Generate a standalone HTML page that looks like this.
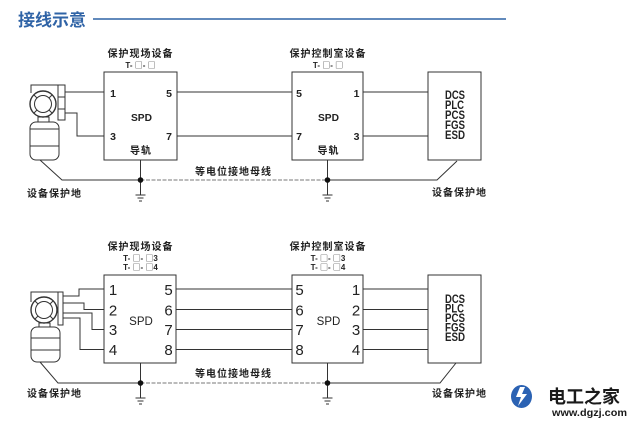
<!DOCTYPE html>
<html><head><meta charset="utf-8"><style>
html,body{margin:0;padding:0;background:#fff;}
svg{display:block;}
text{font-family:"Liberation Sans","Noto Sans CJK SC",sans-serif;}
.cj{font-family:"Liberation Sans","Noto Sans CJK SC",sans-serif;font-weight:bold;font-size:10px;letter-spacing:1px;fill:#222;}
.tl{font-weight:bold;font-size:8px;fill:#222;}
.sq{font-family:"Noto Sans CJK SC",sans-serif;font-weight:normal;font-size:8px;}
.pt{font-weight:bold;font-size:10.5px;fill:#222;}
.pb{font-size:15px;fill:#222;}
.dc{font-weight:bold;font-size:11.5px;fill:#222;}
</style></head><body>
<svg width="640" height="423" viewBox="0 0 640 423" xmlns="http://www.w3.org/2000/svg">
<rect width="640" height="423" fill="#fff"/>
<!-- title -->
<text x="18" y="26" font-size="17" font-weight="bold" fill="#2f63a6" style="font-family:'Liberation Sans','Noto Sans CJK SC',sans-serif;">接线示意</text>
<line x1="93" y1="19" x2="506" y2="19" stroke="#2f63a6" stroke-width="1.6"/>

<g stroke="#333" stroke-width="1" fill="none">
<!-- ===== TOP DIAGRAM ===== -->
<polyline points="31,93 31,85 61,85"/>
<circle cx="43" cy="104" r="13" stroke-width="1.4"/>
<circle cx="43" cy="104" r="8.5"/>
<line x1="37" y1="98" x2="34" y2="95"/><line x1="49" y1="98" x2="52" y2="95"/>
<line x1="37" y1="110" x2="34" y2="113"/><line x1="49" y1="110" x2="52" y2="113"/>
<rect x="58" y="85" width="7" height="35"/>
<line x1="58" y1="97" x2="65" y2="97"/><line x1="58" y1="109" x2="65" y2="109"/>
<rect x="38" y="117" width="11" height="5"/>
<rect x="30" y="122" width="29" height="38" rx="6"/>
<line x1="30" y1="129" x2="59" y2="129"/><line x1="30" y1="146" x2="59" y2="146"/>
<polyline points="65,92 104,92"/>
<polyline points="65,113 77,113 77,136 104,136"/>
<rect x="104" y="72" width="73" height="88"/>
<rect x="292" y="72" width="71" height="88"/>
<rect x="428" y="72" width="53" height="88"/>
<line x1="177" y1="92" x2="292" y2="92"/>
<line x1="177" y1="136" x2="292" y2="136"/>
<line x1="363" y1="92" x2="428" y2="92"/>
<line x1="363" y1="136" x2="428" y2="136"/>
<polyline points="40,160 62,180 140.5,180"/>
<line x1="140.5" y1="180" x2="327.5" y2="180" stroke="#777" stroke-dasharray="4,1.5"/>
<polyline points="327.5,180 437,180 457,161"/>
<line x1="140.5" y1="160" x2="140.5" y2="195"/>
<line x1="327.5" y1="160" x2="327.5" y2="195"/>
<line x1="135.5" y1="195" x2="145.5" y2="195"/><line x1="137.5" y1="198" x2="143.5" y2="198"/><line x1="139" y1="201" x2="142" y2="201"/>
<line x1="322.5" y1="195" x2="332.5" y2="195"/><line x1="324.5" y1="198" x2="330.5" y2="198"/><line x1="326" y1="201" x2="329" y2="201"/>

<!-- ===== BOTTOM DIAGRAM ===== -->
<polyline points="31,302 31,292 62,292"/>
<circle cx="44" cy="310" r="13" stroke-width="1.4"/>
<circle cx="44" cy="310" r="8.5"/>
<line x1="38" y1="304" x2="35" y2="301"/><line x1="50" y1="304" x2="53" y2="301"/>
<line x1="38" y1="316" x2="35" y2="319"/><line x1="50" y1="316" x2="53" y2="319"/>
<rect x="58" y="292" width="5" height="33"/>
<rect x="39" y="323" width="11" height="4"/>
<rect x="31" y="327" width="29" height="35" rx="6"/>
<line x1="31" y1="338" x2="60" y2="338"/><line x1="31" y1="350" x2="60" y2="350"/>
<polyline points="63,296 79,296 79,289 104,289"/>
<polyline points="63,303 84,303 84,309.5 104,309.5"/>
<polyline points="63,313 92,313 92,329.5 104,329.5"/>
<polyline points="63,318 80,318 80,349.5 104,349.5"/>
<rect x="104" y="275" width="72" height="88"/>
<rect x="292" y="275" width="71" height="88"/>
<rect x="428" y="275" width="53" height="88"/>
<line x1="176" y1="289" x2="292" y2="289"/>
<line x1="176" y1="309.5" x2="292" y2="309.5"/>
<line x1="176" y1="329.5" x2="292" y2="329.5"/>
<line x1="176" y1="349.5" x2="292" y2="349.5"/>
<line x1="363" y1="289" x2="428" y2="289"/>
<line x1="363" y1="309.5" x2="428" y2="309.5"/>
<line x1="363" y1="329.5" x2="428" y2="329.5"/>
<line x1="363" y1="349.5" x2="428" y2="349.5"/>
<polyline points="40,362 58,383 140.5,383"/>
<line x1="140.5" y1="383" x2="327.5" y2="383" stroke="#777" stroke-dasharray="4,1.5"/>
<polyline points="327.5,383 440,383 456,363"/>
<line x1="140.5" y1="363" x2="140.5" y2="398"/>
<line x1="327.5" y1="363" x2="327.5" y2="398"/>
<line x1="135.5" y1="398" x2="145.5" y2="398"/><line x1="137.5" y1="401" x2="143.5" y2="401"/><line x1="139" y1="404" x2="142" y2="404"/>
<line x1="322.5" y1="398" x2="332.5" y2="398"/><line x1="324.5" y1="401" x2="330.5" y2="401"/><line x1="326" y1="404" x2="329" y2="404"/>
</g>
<g fill="#111">
<circle cx="140.5" cy="180" r="2.8"/><circle cx="327.5" cy="180" r="2.8"/>
<circle cx="140.5" cy="383" r="2.8"/><circle cx="327.5" cy="383" r="2.8"/>
</g>

<!-- TOP TEXT -->
<text class="cj" x="140.5" y="57" text-anchor="middle">保护现场设备</text>
<text class="tl" x="140.5" y="68" text-anchor="middle">T- <tspan class="sq">□</tspan>- <tspan class="sq">□</tspan></text>
<text class="cj" x="328" y="57" text-anchor="middle">保护控制室设备</text>
<text class="tl" x="328" y="68" text-anchor="middle">T- <tspan class="sq">□</tspan>- <tspan class="sq">□</tspan></text>
<text class="pt" x="113" y="97" text-anchor="middle">1</text>
<text class="pt" x="113" y="140" text-anchor="middle">3</text>
<text class="pt" x="169" y="97" text-anchor="middle">5</text>
<text class="pt" x="169" y="140" text-anchor="middle">7</text>
<text class="pt" x="141.5" y="121" text-anchor="middle" textLength="21" lengthAdjust="spacingAndGlyphs" font-size="11">SPD</text>
<text class="cj" x="141" y="154" text-anchor="middle">导轨</text>
<text class="pt" x="299" y="97" text-anchor="middle">5</text>
<text class="pt" x="299" y="140" text-anchor="middle">7</text>
<text class="pt" x="356.5" y="97" text-anchor="middle">1</text>
<text class="pt" x="356.5" y="140" text-anchor="middle">3</text>
<text class="pt" x="328.5" y="121" text-anchor="middle" textLength="21" lengthAdjust="spacingAndGlyphs" font-size="11">SPD</text>
<text class="cj" x="328.5" y="154" text-anchor="middle">导轨</text>
<text class="dc" x="445" y="99" textLength="20" lengthAdjust="spacingAndGlyphs">DCS</text>
<text class="dc" x="445" y="109" textLength="19" lengthAdjust="spacingAndGlyphs">PLC</text>
<text class="dc" x="445" y="119" textLength="20" lengthAdjust="spacingAndGlyphs">PCS</text>
<text class="dc" x="445" y="129" textLength="20" lengthAdjust="spacingAndGlyphs">FGS</text>
<text class="dc" x="445" y="139" textLength="20" lengthAdjust="spacingAndGlyphs">ESD</text>
<text class="cj" x="195" y="175">等电位接地母线</text>
<text class="cj" x="27" y="197">设备保护地</text>
<text class="cj" x="432" y="196">设备保护地</text>

<!-- BOTTOM TEXT -->
<text class="cj" x="140.5" y="250" text-anchor="middle">保护现场设备</text>
<text class="tl" x="140.5" y="261" text-anchor="middle">T- <tspan class="sq">□</tspan>- <tspan class="sq">□</tspan>3</text>
<text class="tl" x="140.5" y="270" text-anchor="middle">T- <tspan class="sq">□</tspan>- <tspan class="sq">□</tspan>4</text>
<text class="cj" x="328" y="250" text-anchor="middle">保护控制室设备</text>
<text class="tl" x="328" y="261" text-anchor="middle">T- <tspan class="sq">□</tspan>- <tspan class="sq">□</tspan>3</text>
<text class="tl" x="328" y="270" text-anchor="middle">T- <tspan class="sq">□</tspan>- <tspan class="sq">□</tspan>4</text>
<text class="pb" x="113" y="295" text-anchor="middle">1</text>
<text class="pb" x="113" y="315.5" text-anchor="middle">2</text>
<text class="pb" x="113" y="335" text-anchor="middle">3</text>
<text class="pb" x="113" y="355" text-anchor="middle">4</text>
<text class="pb" x="168.5" y="295" text-anchor="middle">5</text>
<text class="pb" x="168.5" y="315.5" text-anchor="middle">6</text>
<text class="pb" x="168.5" y="335" text-anchor="middle">7</text>
<text class="pb" x="168.5" y="355" text-anchor="middle">8</text>
<text x="141" y="325" text-anchor="middle" font-size="11.5" fill="#222">SPD</text>
<text class="pb" x="299.5" y="295" text-anchor="middle">5</text>
<text class="pb" x="299.5" y="315.5" text-anchor="middle">6</text>
<text class="pb" x="299.5" y="335" text-anchor="middle">7</text>
<text class="pb" x="299.5" y="355" text-anchor="middle">8</text>
<text class="pb" x="356" y="295" text-anchor="middle">1</text>
<text class="pb" x="356" y="315.5" text-anchor="middle">2</text>
<text class="pb" x="356" y="335" text-anchor="middle">3</text>
<text class="pb" x="356" y="355" text-anchor="middle">4</text>
<text x="328.5" y="325" text-anchor="middle" font-size="11.5" fill="#222">SPD</text>
<text class="dc" x="445" y="303" textLength="20" lengthAdjust="spacingAndGlyphs">DCS</text>
<text class="dc" x="445" y="312.5" textLength="19" lengthAdjust="spacingAndGlyphs">PLC</text>
<text class="dc" x="445" y="322" textLength="20" lengthAdjust="spacingAndGlyphs">PCS</text>
<text class="dc" x="445" y="331.5" textLength="20" lengthAdjust="spacingAndGlyphs">FGS</text>
<text class="dc" x="445" y="341" textLength="20" lengthAdjust="spacingAndGlyphs">ESD</text>
<text class="cj" x="195" y="377">等电位接地母线</text>
<text class="cj" x="27" y="397">设备保护地</text>
<text class="cj" x="432" y="397">设备保护地</text>

<!-- logo -->
<ellipse cx="521.5" cy="396.5" rx="10.5" ry="11.5" fill="#2b62b3"/>
<path d="M520,387 L516,397 L521,397 L518,406 L527,394 L522,394 L525,387 Z" fill="#fff"/>
<text x="548" y="403" font-size="18" font-weight="bold" fill="#1a1a1a" style="font-family:'Liberation Sans','Noto Sans CJK SC',sans-serif;">电工之家</text>
<text x="552" y="416" font-size="10" font-weight="bold" fill="#1a1a1a" textLength="75" lengthAdjust="spacingAndGlyphs">www.dgzj.com</text>
</svg>
</body></html>
